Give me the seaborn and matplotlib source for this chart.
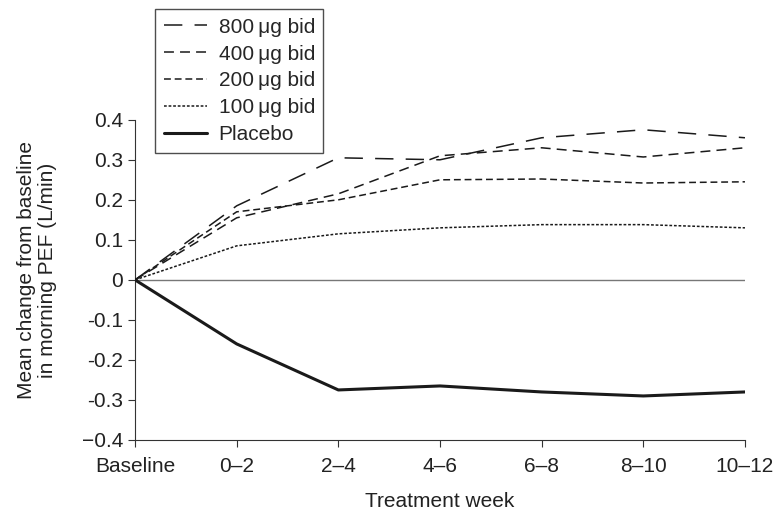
import matplotlib
matplotlib.use("Agg")
import matplotlib.pyplot as plt
import seaborn as sns

weeks = ["Baseline", "0\u20132", "2\u20134", "4\u20136", "6\u20138", "8\u201310", "10\u201312"]
dose_800 = [0, 0.185, 0.305, 0.300, 0.355, 0.375, 0.355]
dose_400 = [0, 0.155, 0.215, 0.310, 0.330, 0.307, 0.330]
dose_200 = [0, 0.170, 0.200, 0.250, 0.252, 0.242, 0.245]
dose_100 = [0, 0.085, 0.115, 0.130, 0.138, 0.138, 0.130]
placebo = [0, -0.160, -0.275, -0.265, -0.280, -0.290, -0.280]

series = [
    ("800\u2009\u03bcg bid", dose_800, (12, 8), 1.1),
    ("400\u2009\u03bcg bid", dose_400, (6.5, 4), 1.1),
    ("200\u2009\u03bcg bid", dose_200, (4.5, 2.5), 1.1),
    ("100\u2009\u03bcg bid", dose_100, (1.8, 1.2), 1.1),
    ("Placebo", placebo, "", 2.2),
]

sns.set_style("ticks")
plt.rcParams["font.family"] = ["Liberation Sans", "DejaVu Sans"]
fs = 15

fig = plt.figure(figsize=(7.76, 5.14), dpi=100)
ax = fig.add_axes([0.174, 0.144, 0.786, 0.623])

ax.axhline(0, color="#777777", lw=1.0, zorder=1)

x = list(range(len(weeks)))
for label, vals, dash, lw in series:
    sns.lineplot(x=x, y=vals, ax=ax, color="#1a1a1a", lw=lw, label=label, zorder=3)
    line = ax.lines[-1]
    if dash:
        line.set_dashes(dash)

ax.set_xlim(0, 6)
ax.set_ylim(-0.4, 0.4)
ax.set_xticks(x)
ax.set_xticklabels(weeks)
ax.set_yticks([0.4, 0.3, 0.2, 0.1, 0, -0.1, -0.2, -0.3, -0.4])
ax.set_yticklabels(["0.4", "0.3", "0.2", "0.1", "0", "-0.1", "-0.2", "-0.3", "\u22120.4"])
ax.tick_params(length=5, width=0.8, colors="#333333", labelcolor="#222222", labelsize=fs)
ax.tick_params(axis="x", pad=7)
sns.despine(ax=ax)
for s in ["left", "bottom"]:
    ax.spines[s].set_linewidth(0.8)
    ax.spines[s].set_color("#333333")

ax.set_xlabel("Treatment week", fontsize=fs, labelpad=12, color="#222222")
ax.set_ylabel("Mean change from baseline\nin morning PEF (L/min)", fontsize=fs,
              color="#222222", linespacing=1.15)
ax.yaxis.set_label_coords(-0.128, 0.53)

leg = ax.legend(loc="upper left", bbox_to_anchor=(0.2, 0.982),
                bbox_transform=fig.transFigure, handlelength=2.1,
                frameon=True, fancybox=False, fontsize=fs,
                labelspacing=0.38, borderpad=0.4, handletextpad=0.55,
                borderaxespad=0)
leg.get_frame().set_edgecolor("#222222")
leg.get_frame().set_linewidth(1.0)

fig.savefig("out.png", dpi=100)
